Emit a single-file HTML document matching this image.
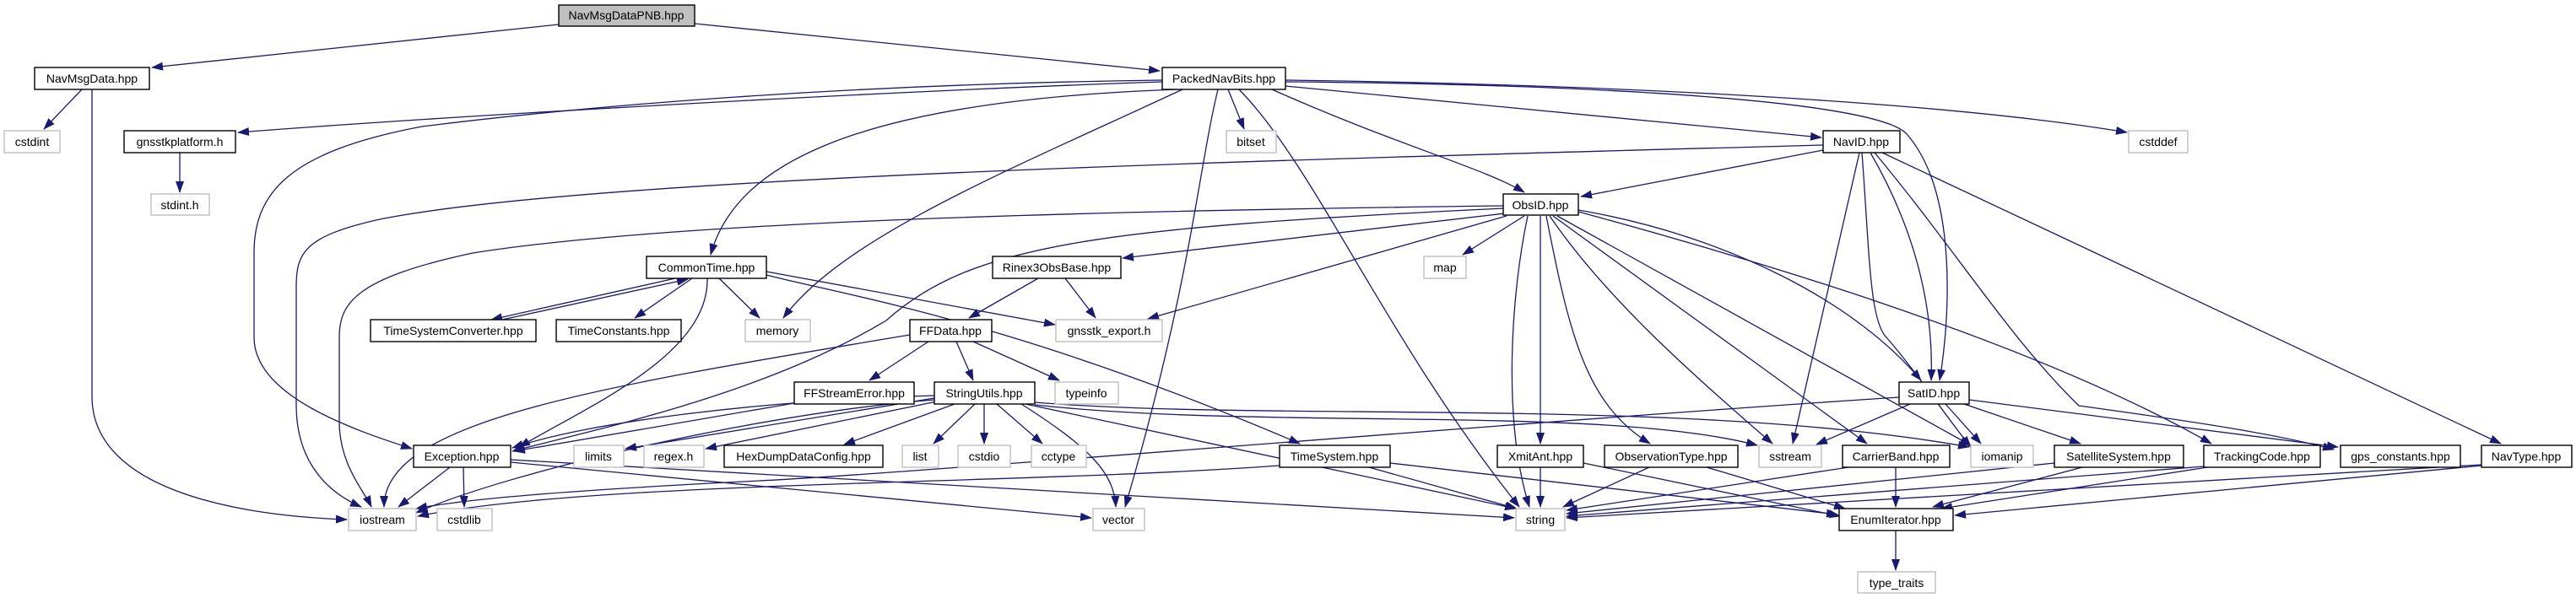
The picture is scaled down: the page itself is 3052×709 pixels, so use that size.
<!DOCTYPE html>
<html><head><meta charset="utf-8"><style>
html,body{margin:0;padding:0;background:#fff;}
svg{display:block;}
text{font-family:"Liberation Sans",sans-serif;font-size:14px;fill:#000;}
.e{fill:none;stroke:#191970;stroke-width:1.3;marker-end:url(#a);}
.n{fill:#fff;stroke:#000;stroke-width:1.4;}
.g{fill:#fff;stroke:#bfbfbf;stroke-width:1.4;}
</style></head><body>
<svg width="3052" height="709" viewBox="0 0 3052 709" xmlns="http://www.w3.org/2000/svg">
<defs><marker id="a" markerUnits="userSpaceOnUse" markerWidth="14" markerHeight="10" refX="13" refY="5" orient="auto"><path d="M0,0 L14,5 L0,10 z" fill="#191970"/></marker></defs>
<g>
<path class="e" d="M662,29 L180,80"/>
<path class="e" d="M823,28 L1374,84"/>
<path class="e" d="M97,106 L52,153"/>
<path class="e" d="M109,106 L109,470 C109,570 250,610 411,616"/>
<path class="e" d="M1377,97 C1000,110 500,140 282,157"/>
<path class="e" d="M1377,95 C1000,100 700,125 500,150 C340,180 301,230 301,300 L301,400 C301,470 420,510 488,532"/>
<path class="e" d="M1395,106 C1000,120 870,200 842,302"/>
<path class="e" d="M1401,106 C1200,200 1000,280 928,377"/>
<path class="e" d="M1443,106 C1420,200 1410,340 1333,601"/>
<path class="e" d="M1468,106 C1560,200 1640,400 1800,601"/>
<path class="e" d="M1455,106 L1474,153"/>
<path class="e" d="M1507,106 C1650,170 1760,200 1806,228"/>
<path class="e" d="M1523,102 L2158,163"/>
<path class="e" d="M1523,95 C1900,100 2300,120 2520,157"/>
<path class="e" d="M1523,97 C1900,100 2230,120 2260,160 C2320,230 2310,380 2298,451"/>
<path class="e" d="M213,181 L213,228"/>
<path class="e" d="M2160,178 L1873,233"/>
<path class="e" d="M2160,172 C1500,190 700,210 450,260 C360,280 351,300 351,340 L351,480 C351,540 380,580 428,601"/>
<path class="e" d="M2203,181 L2124,526"/>
<path class="e" d="M2206,181 C2215,300 2215,380 2235,400 C2270,440 2310,500 2335,530"/>
<path class="e" d="M2216,181 C2285,300 2290,400 2288,451"/>
<path class="e" d="M2221,181 C2320,300 2380,400 2463,481 C2600,500 2700,515 2765,533"/>
<path class="e" d="M2230,181 L2963,526"/>
<path class="e" d="M1800,251 L1330,306"/>
<path class="e" d="M1806,256 L1733,302"/>
<path class="e" d="M1785,256 L1360,378"/>
<path class="e" d="M1781,247 C1300,270 1150,290 1050,380 C900,470 700,510 607,535"/>
<path class="e" d="M1781,244 C1300,250 800,262 560,300 C420,330 402,360 402,400 L402,500 C402,550 430,580 440,601"/>
<path class="e" d="M1810,256 C1790,350 1780,500 1812,601"/>
<path class="e" d="M1825,256 L1825,526"/>
<path class="e" d="M1832,256 C1860,400 1880,480 1955,526"/>
<path class="e" d="M1840,256 L2212,526"/>
<path class="e" d="M1845,256 L2335,528"/>
<path class="e" d="M1836,256 C1900,350 2000,440 2100,526"/>
<path class="e" d="M1870,249 C2050,280 2200,360 2276,451"/>
<path class="e" d="M1870,251 C2050,300 2400,400 2620,526"/>
<path class="e" d="M2250,471 C1800,500 1100,560 900,570 C700,580 560,590 493,603"/>
<path class="e" d="M2263,479 L2152,527"/>
<path class="e" d="M2305,479 L2347,526"/>
<path class="e" d="M2327,479 L2465,526"/>
<path class="e" d="M2333,474 L2770,530"/>
<path class="e" d="M1107,469 C900,475 700,500 607,531"/>
<path class="e" d="M1107,472 L741,532"/>
<path class="e" d="M1110,476 L836,532"/>
<path class="e" d="M1131,479 L1000,527"/>
<path class="e" d="M1155,479 L1106,526"/>
<path class="e" d="M1166,479 L1166,526"/>
<path class="e" d="M1181,479 L1235,526"/>
<path class="e" d="M1210,479 C1290,530 1320,560 1322,601"/>
<path class="e" d="M1215,479 L1796,603"/>
<path class="e" d="M1226,480 C1500,510 1900,480 2082,528"/>
<path class="e" d="M1226,477 C1500,500 2000,470 2333,530"/>
<path class="e" d="M1107,474 C900,490 600,560 493,608"/>
<path class="e" d="M1100,405 L1030,451"/>
<path class="e" d="M1133,405 L1153,451"/>
<path class="e" d="M1153,405 L1255,451"/>
<path class="e" d="M1078,397 C700,460 455,500 455,601"/>
<path class="e" d="M941,478 L609,535"/>
<path class="e" d="M533,554 L472,601"/>
<path class="e" d="M549,554 L550,601"/>
<path class="e" d="M605,548 L1293,614"/>
<path class="e" d="M605,545 L1794,614"/>
<path class="e" d="M800,330 L582,379"/>
<path class="e" d="M595,379 L815,331"/>
<path class="e" d="M820,330 L752,377"/>
<path class="e" d="M838,330 C840,420 700,480 615,530"/>
<path class="e" d="M852,330 L900,377"/>
<path class="e" d="M908,322 L1250,385"/>
<path class="e" d="M908,326 C1000,350 1200,380 1540,526"/>
<path class="e" d="M1230,330 L1148,377"/>
<path class="e" d="M1262,330 L1298,377"/>
<path class="e" d="M1516,552 C1200,575 700,570 495,612"/>
<path class="e" d="M1622,554 L1797,603"/>
<path class="e" d="M1647,549 L2177,610"/>
<path class="e" d="M1825,554 L1825,601"/>
<path class="e" d="M1876,549 L2180,612"/>
<path class="e" d="M1954,554 L1852,601"/>
<path class="e" d="M2022,554 L2186,603"/>
<path class="e" d="M2190,554 L1856,605"/>
<path class="e" d="M2246,554 L2246,601"/>
<path class="e" d="M2434,549 L1856,609"/>
<path class="e" d="M2467,554 L2290,601"/>
<path class="e" d="M2611,553 L1856,612"/>
<path class="e" d="M2615,554 L2300,603"/>
<path class="e" d="M2940,551 L1856,614"/>
<path class="e" d="M2940,552 L2316,611"/>
<path class="e" d="M2246,629 L2246,676"/>
</g>
<g>
<rect x="662" y="6" width="161" height="25" fill="#bfbfbf" stroke="#000" stroke-width="1.4"/><text x="742" y="23" text-anchor="middle">NavMsgDataPNB.hpp</text>
<rect class="n" x="41" y="80" width="136" height="26"/><text x="109" y="98" text-anchor="middle">NavMsgData.hpp</text>
<rect class="n" x="1377" y="80" width="146" height="26"/><text x="1450" y="98" text-anchor="middle">PackedNavBits.hpp</text>
<rect class="g" x="5" y="155" width="66" height="26"/><text x="38" y="173" text-anchor="middle">cstdint</text>
<rect class="n" x="147" y="155" width="132" height="26"/><text x="213" y="173" text-anchor="middle">gnsstkplatform.h</text>
<rect class="g" x="1453" y="155" width="59" height="26"/><text x="1482" y="173" text-anchor="middle">bitset</text>
<rect class="n" x="2160" y="155" width="91" height="26"/><text x="2205" y="173" text-anchor="middle">NavID.hpp</text>
<rect class="g" x="2522" y="155" width="70" height="26"/><text x="2557" y="173" text-anchor="middle">cstddef</text>
<rect class="g" x="179" y="230" width="69" height="25"/><text x="213" y="248" text-anchor="middle">stdint.h</text>
<rect class="n" x="1781" y="230" width="89" height="25"/><text x="1825" y="248" text-anchor="middle">ObsID.hpp</text>
<rect class="n" x="766" y="304" width="142" height="26"/><text x="837" y="322" text-anchor="middle">CommonTime.hpp</text>
<rect class="n" x="1176" y="304" width="152" height="26"/><text x="1252" y="322" text-anchor="middle">Rinex3ObsBase.hpp</text>
<rect class="g" x="1687" y="304" width="50" height="26"/><text x="1712" y="322" text-anchor="middle">map</text>
<rect class="n" x="439" y="379" width="196" height="26"/><text x="537" y="397" text-anchor="middle">TimeSystemConverter.hpp</text>
<rect class="n" x="659" y="379" width="148" height="26"/><text x="733" y="397" text-anchor="middle">TimeConstants.hpp</text>
<rect class="g" x="883" y="379" width="77" height="26"/><text x="921" y="397" text-anchor="middle">memory</text>
<rect class="n" x="1078" y="379" width="97" height="26"/><text x="1126" y="397" text-anchor="middle">FFData.hpp</text>
<rect class="g" x="1251" y="379" width="126" height="26"/><text x="1314" y="397" text-anchor="middle">gnsstk_export.h</text>
<rect class="n" x="941" y="453" width="142" height="26"/><text x="1012" y="471" text-anchor="middle">FFStreamError.hpp</text>
<rect class="n" x="1107" y="453" width="119" height="26"/><text x="1166" y="471" text-anchor="middle">StringUtils.hpp</text>
<rect class="g" x="1250" y="453" width="75" height="26"/><text x="1287" y="471" text-anchor="middle">typeinfo</text>
<rect class="n" x="2250" y="453" width="83" height="26"/><text x="2291" y="471" text-anchor="middle">SatID.hpp</text>
<rect class="n" x="490" y="528" width="115" height="26"/><text x="547" y="546" text-anchor="middle">Exception.hpp</text>
<rect class="g" x="680" y="528" width="59" height="26"/><text x="709" y="546" text-anchor="middle">limits</text>
<rect class="g" x="763" y="528" width="71" height="26"/><text x="798" y="546" text-anchor="middle">regex.h</text>
<rect class="n" x="858" y="528" width="188" height="26"/><text x="952" y="546" text-anchor="middle">HexDumpDataConfig.hpp</text>
<rect class="g" x="1069" y="528" width="43" height="26"/><text x="1090" y="546" text-anchor="middle">list</text>
<rect class="g" x="1135" y="528" width="62" height="26"/><text x="1166" y="546" text-anchor="middle">cstdio</text>
<rect class="g" x="1222" y="528" width="65" height="26"/><text x="1254" y="546" text-anchor="middle">cctype</text>
<rect class="n" x="1516" y="528" width="131" height="26"/><text x="1581" y="546" text-anchor="middle">TimeSystem.hpp</text>
<rect class="n" x="1774" y="528" width="102" height="26"/><text x="1825" y="546" text-anchor="middle">XmitAnt.hpp</text>
<rect class="n" x="1901" y="528" width="158" height="26"/><text x="1980" y="546" text-anchor="middle">ObservationType.hpp</text>
<rect class="g" x="2084" y="528" width="74" height="26"/><text x="2121" y="546" text-anchor="middle">sstream</text>
<rect class="n" x="2183" y="528" width="127" height="26"/><text x="2246" y="546" text-anchor="middle">CarrierBand.hpp</text>
<rect class="g" x="2335" y="528" width="74" height="26"/><text x="2372" y="546" text-anchor="middle">iomanip</text>
<rect class="n" x="2434" y="528" width="153" height="26"/><text x="2510" y="546" text-anchor="middle">SatelliteSystem.hpp</text>
<rect class="n" x="2611" y="528" width="138" height="26"/><text x="2680" y="546" text-anchor="middle">TrackingCode.hpp</text>
<rect class="n" x="2773" y="528" width="142" height="26"/><text x="2844" y="546" text-anchor="middle">gps_constants.hpp</text>
<rect class="n" x="2940" y="528" width="107" height="26"/><text x="2993" y="546" text-anchor="middle">NavType.hpp</text>
<rect class="g" x="413" y="603" width="80" height="26"/><text x="453" y="621" text-anchor="middle">iostream</text>
<rect class="g" x="518" y="603" width="65" height="26"/><text x="550" y="621" text-anchor="middle">cstdlib</text>
<rect class="g" x="1295" y="603" width="61" height="26"/><text x="1325" y="621" text-anchor="middle">vector</text>
<rect class="g" x="1796" y="603" width="58" height="26"/><text x="1825" y="621" text-anchor="middle">string</text>
<rect class="n" x="2179" y="603" width="135" height="26"/><text x="2246" y="621" text-anchor="middle">EnumIterator.hpp</text>
<rect class="g" x="2201" y="678" width="92" height="25"/><text x="2247" y="696" text-anchor="middle">type_traits</text>
</g>
</svg>
</body></html>
